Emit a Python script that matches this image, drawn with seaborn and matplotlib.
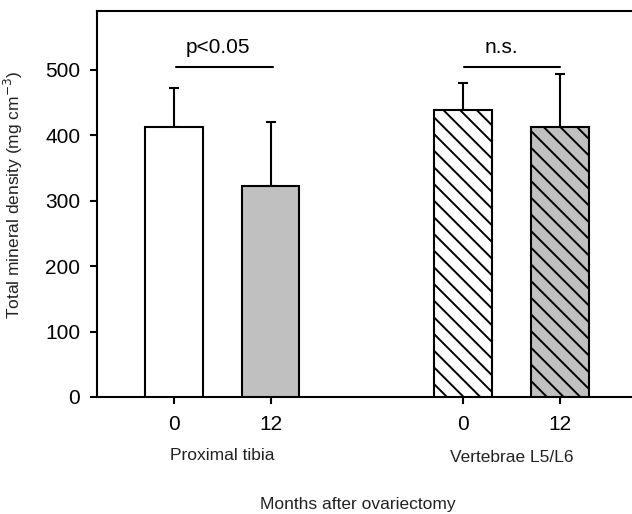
import matplotlib
matplotlib.use("Agg")
import matplotlib.pyplot as plt
import seaborn as sns
import pandas as pd
import numpy as np

# Data
groups = ["Proximal tibia", "Proximal tibia", "Vertebrae L5/L6", "Vertebrae L5/L6"]
months = ["0", "12", "0", "12"]
positions = [0, 1, 3, 4]
values = [412, 323, 438, 412]
errors = [61, 97, 42, 81]
fills = ["#ffffff", "#c0c0c0", "#ffffff", "#c0c0c0"]
hatches = ["", "", "\\\\", "\\\\"]
group_labels = ["Proximal tibia", "Vertebrae L5/L6"]
group_centers = [0.5, 3.5]
sig_labels = ["p<0.05", "n.s."]
sig_spans = [(0.02, 1.03), (3.01, 4.0)]
sig_text_x = [0.45, 3.4]
sig_y = 505

sns.set_theme(style="ticks")
plt.rcParams["font.family"] = ["Liberation Sans", "DejaVu Sans"]
plt.rcParams["hatch.linewidth"] = 1.4
plt.rcParams["hatch.color"] = "black"

df = pd.DataFrame({"pos": positions, "value": values, "key": [f"{g}-{m}" for g, m in zip(groups, months)]})

fig = plt.figure(figsize=(6.32, 5.14), dpi=100)
ax = fig.add_axes([97 / 632, 1 - 397 / 514, 1 - 97 / 632, (397 - 11) / 514])

sns.barplot(data=df, x="pos", y="value", hue="key", palette=dict(zip(df["key"], fills)),
            native_scale=True, width=0.6, dodge=False, legend=False, errorbar=None,
            edgecolor="black", linewidth=1.5, ax=ax, zorder=3)

for p in ax.patches:
    cx = p.get_x() + p.get_width() / 2
    i = int(np.argmin([abs(cx - q) for q in positions]))
    p.set_hatch(hatches[i])
    p.set_edgecolor("black")

ax.errorbar(positions, values, yerr=[np.zeros(len(errors)), errors], fmt="none",
            ecolor="black", elinewidth=1.5, capsize=3.8, capthick=1.5, zorder=2)

for (x0, x1), lab, tx in zip(sig_spans, sig_labels, sig_text_x):
    ax.plot([x0, x1], [sig_y, sig_y], color="black", lw=1.5)
    ax.text(tx, 519, lab, ha="center", va="bottom", fontsize=15, color="black")

ax.set_xlim(-0.8, 4.75)
ax.set_ylim(0, 590)
ax.set_yticks([0, 100, 200, 300, 400, 500])
ax.set_xticks(positions)
ax.set_xticklabels(months)
ax.tick_params(axis="both", labelsize=15, length=5, width=1.5, direction="out", colors="black")
ax.tick_params(axis="x", pad=8)
ax.tick_params(axis="y", pad=7)
ax.set_xlabel("")
ax.set_ylabel("Total mineral density (mg cm$^{-3}$)", fontsize=12.5, color="#222222")
ax.yaxis.set_label_coords(-0.135, 0.523)

for s in ["left", "bottom", "top"]:
    ax.spines[s].set_linewidth(1.5)
    ax.spines[s].set_color("black")
    ax.spines[s].set_visible(True)
ax.spines["right"].set_visible(False)

trans = matplotlib.transforms.blended_transform_factory(ax.transData, fig.transFigure)
for c, lab, yy in zip(group_centers, group_labels, [456, 458]):
    ax.text(c, 1 - yy / 514, lab, transform=trans, ha="center", va="center", fontsize=12.5, color="#222222")

fig.text(358 / 632, 1 - 504 / 514, "Months after ovariectomy", ha="center", va="center", fontsize=12.5, color="#222222")

fig.savefig("out.png", dpi=100)
